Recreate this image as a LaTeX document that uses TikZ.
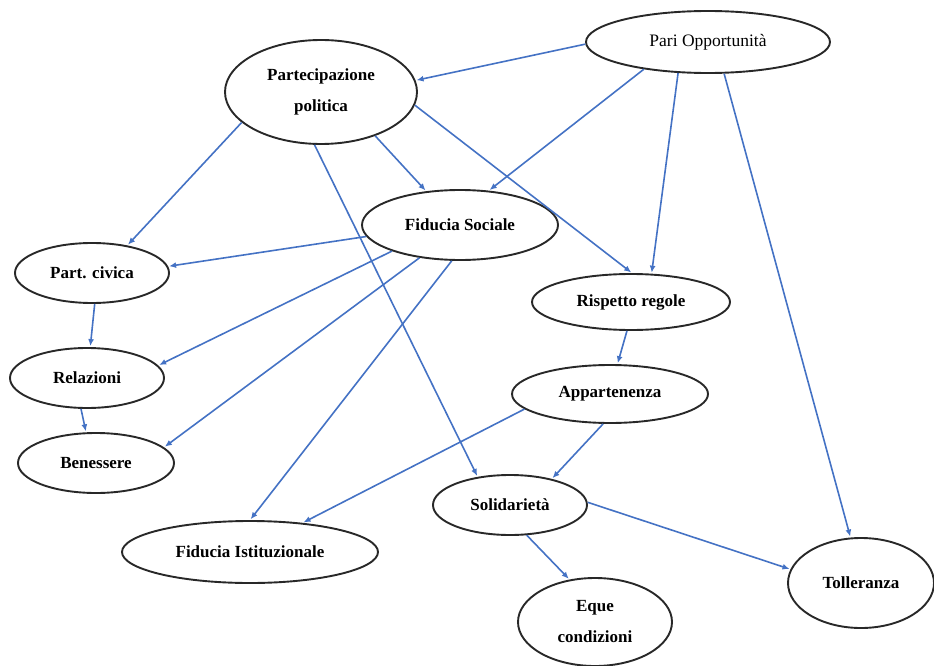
\documentclass[tikz,border=0pt]{standalone}
\usepackage{fontspec}
\setmainfont{Liberation Serif}
\usepackage{tikz}
\usetikzlibrary{arrows.meta,shapes.geometric}
\definecolor{linkblue}{RGB}{68,114,196}
\definecolor{rimgray}{RGB}{40,40,40}

\begin{document}
\begin{tikzpicture}[
      x=1pt, y=-1pt,
      >={Latex[length=7pt,width=6pt]}
    ]

    \tikzstyle{blob} = [ellipse, draw=rimgray, line width=1.9pt, inner sep=0pt, align=center, font=\bfseries\fontsize{17}{31}\selectfont]

    \tikzstyle{link} = [->, draw=linkblue, line width=1.6pt, shorten >=1pt]

    \useasboundingbox (0,0) rectangle (934,666);

    \node [blob, minimum width=192pt, minimum height=104pt] (partPol) at (321,92) {Partecipazione\\politica};
    \node [blob, minimum width=244pt, minimum height=62pt, font=\fontsize{17.5}{20}\selectfont] (pari) at (708,42) {Pari Opportunità};
    \node [blob, minimum width=196pt, minimum height=70pt] (fidSoc) at (460,225) {Fiducia Sociale};
    \node [blob, minimum width=154pt, minimum height=60pt] (partCiv) at (92,273) {Part. civica};
    \node [blob, minimum width=198pt, minimum height=56pt] (rispetto) at (631,302) {Rispetto regole};
    \node [blob, minimum width=154pt, minimum height=60pt] (relaz) at (87,378) {Relazioni};
    \node [blob, minimum width=156pt, minimum height=60pt] (benes) at (96,463) {Benessere};
    \node [blob, minimum width=196pt, minimum height=58pt] (appart) at (610,394) {Appartenenza};
    \node [blob, minimum width=154pt, minimum height=60pt] (solid) at (510,505) {Solidarietà};
    \node [blob, minimum width=256pt, minimum height=62pt] (fidIst) at (250,552) {Fiducia Istituzionale};
    \node [blob, minimum width=154pt, minimum height=88pt] (eque) at (595,622) {Eque\\condizioni};
    \node [blob, minimum width=146pt, minimum height=90pt] (toll) at (861,583) {Tolleranza};

    \draw [link] (pari.181) -- (partPol.7);
    \draw [link] (pari.203) -- (fidSoc.50);
    \draw [link] (pari.226) -- (rispetto.54);
    \draw [link] (pari.297) -- (toll.103);

    \draw [link] (partPol.201) -- (partCiv.38);
    \draw [link] (partPol.321) -- (fidSoc.135);
    \draw [link] (partPol.352) -- (rispetto.88);
    \draw [link] (partPol.263) -- (solid.139);

    \draw [link] (fidSoc.187) -- (partCiv.5);
    \draw [link] (fidSoc.201) -- (relaz.10);
    \draw [link] (fidSoc.219) -- (benes.13);
    \draw [link] (fidSoc.257) -- (fidIst.90);

    \draw [link] (partCiv.275) -- (relaz.84);
    \draw [link] (relaz.259) -- (benes.108);

    \draw [link] (rispetto.262) -- (appart.76);
    \draw [link] (appart.190) -- (fidIst.29);
    \draw [link] (appart.257) -- (solid.32);

    \draw [link] (solid.299) -- (eque.121);
    \draw [link] (solid.2) -- (toll.169);

\end{tikzpicture}
\end{document}
